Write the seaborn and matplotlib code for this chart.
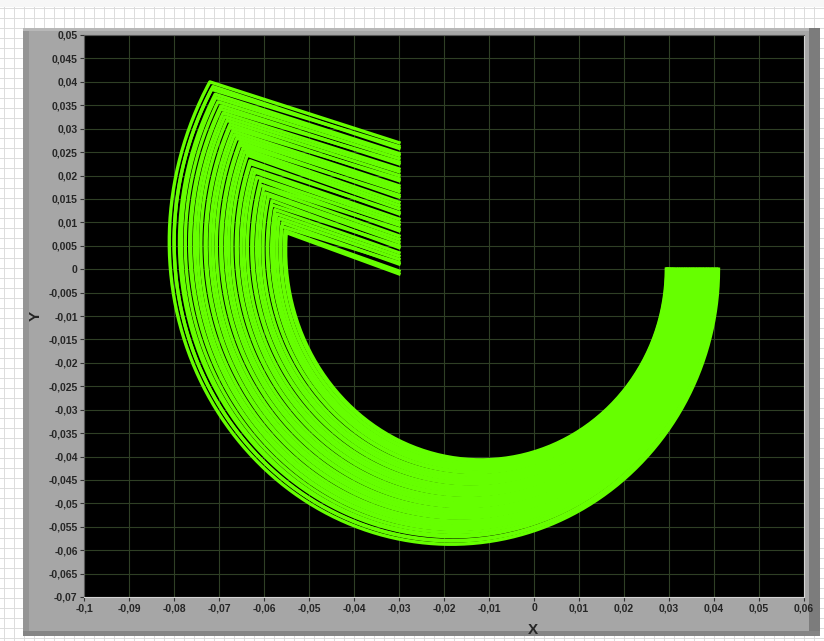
import numpy as np
import pandas as pd
import seaborn as sns
import matplotlib.pyplot as plt
from matplotlib.patches import Rectangle

###############################################################################
# Data
###############################################################################
# x where each path leaves the y=0 line
START_X = [
    0.0410, 0.0406, 0.0404, 0.0399, 0.0397, 0.0393, 0.0390, 0.0386, 0.0384, 0.0380,
    0.0377, 0.0374, 0.0370, 0.0368, 0.0364, 0.0361, 0.0358, 0.0354, 0.0352, 0.0348,
    0.0345, 0.0342, 0.0338, 0.0336, 0.0332, 0.0329, 0.0326, 0.0322, 0.0320, 0.0316,
    0.0313, 0.0310, 0.0307, 0.0305, 0.0302, 0.0300, 0.0298, 0.0297, 0.0295, 0.0294
]
# centre of the turn (on y=0)
CENTER_X = [
    -0.0170, -0.0167, -0.0168, -0.0165, -0.0164, -0.0162, -0.0159, -0.0160, -0.0157, -0.0156,
    -0.0154, -0.0151, -0.0152, -0.0149, -0.0148, -0.0146, -0.0143, -0.0144, -0.0141, -0.0140,
    -0.0138, -0.0135, -0.0136, -0.0133, -0.0132, -0.0130, -0.0127, -0.0128, -0.0125, -0.0124,
    -0.0122, -0.0119, -0.0120, -0.0117, -0.0116, -0.0114, -0.0111, -0.0112, -0.0109, -0.0108
]
# how far past the leftmost point the turn goes (degrees)
TURN_DEG = [
    36.0, 35.5, 35.0, 34.5, 34.0, 33.5, 33.0, 32.5, 32.0, 31.5,
    31.0, 30.5, 30.0, 29.5, 29.0, 28.5, 28.0, 27.5, 27.0, 26.5,
    26.0, 25.0, 24.5, 23.5, 23.0, 22.0, 21.5, 20.5, 20.0, 19.0,
    18.5, 17.5, 16.5, 15.5, 14.5, 13.5, 12.5, 11.5, 10.5, 10.0
]
# y where each straight leg stops at x = END_X
END_X = -0.03
END_Y = [
    0.0270, 0.0258, 0.0262, 0.0247, 0.0243, 0.0236, 0.0225, 0.0229, 0.0214, 0.0208,
    0.0200, 0.0189, 0.0193, 0.0178, 0.0172, 0.0166, 0.0154, 0.0158, 0.0143, 0.0136,
    0.0129, 0.0118, 0.0121, 0.0107, 0.0100, 0.0094, 0.0082, 0.0086, 0.0071, 0.0064,
    0.0057, 0.0046, 0.0050, 0.0035, 0.0028, 0.0021, 0.0011, 0.0014, -0.0004, -0.0010
]
GROWTH = 0.1

X_TICKS = [-0.1, -0.09, -0.08, -0.07, -0.06, -0.05, -0.04, -0.03, -0.02, -0.01,
           0, 0.01, 0.02, 0.03, 0.04, 0.05, 0.06]
X_LBLS = ['-0,1', '-0,09', '-0,08', '-0,07', '-0,06', '-0,05', '-0,04', '-0,03',
          '-0,02', '-0,01', '0', '0,01', '0,02', '0,03', '0,04', '0,05', '0,06']
Y_TICKS = [0.05, 0.045, 0.04, 0.035, 0.03, 0.025, 0.02, 0.015, 0.01, 0.005, 0,
           -0.005, -0.01, -0.015, -0.02, -0.025, -0.03, -0.035, -0.04, -0.045,
           -0.05, -0.055, -0.06, -0.065, -0.07]
Y_LBLS = ['0,05', '0,045', '0,04', '0,035', '0,03', '0,025', '0,02', '0,015',
          '0,01', '0,005', '0', '-0,005', '-0,01', '-0,015', '-0,02', '-0,025',
          '-0,03', '-0,035', '-0,04', '-0,045', '-0,05', '-0,055', '-0,06',
          '-0,065', '-0,07']

###############################################################################
# Build paths: turn around CENTER_X, then a straight leg to END_X
###############################################################################
rows = []
for k in range(len(START_X)):
    (cx, r0) = (CENTER_X[k], START_X[k] - CENTER_X[k])
    phi = np.linspace(0, np.pi + np.radians(TURN_DEG[k]), 240)
    r = r0 * (1 + GROWTH * (phi / np.pi) ** 3)
    xs = list(cx + r * np.cos(phi)) + [END_X]
    ys = list(-r * np.sin(phi)) + [END_Y[k]]
    rows += [(k, i, a, b) for (i, (a, b)) in enumerate(zip(xs, ys))]
df = pd.DataFrame(rows, columns=['path', 'step', 'x', 'y'])

###############################################################################
# Figure
###############################################################################
GREEN = '#66ff00'
TXT = '#262626'
FONT = 'Liberation Sans'
fig = plt.figure(figsize=(8.24, 6.41), dpi=100)
# page background (light grid) and the grey graph panel
bg = fig.add_axes([0, 0, 1, 1], zorder=-10)
bg.set_xlim(0, 824)
bg.set_ylim(641, 0)
bg.set_facecolor('#eeeeee')
for v in np.arange(4, 824, 10):
    bg.axvline(v, color='#dcdcdc', lw=0.7, zorder=0)
for v in np.arange(8, 641, 10):
    bg.axhline(v, color='#dcdcdc', lw=0.7, zorder=0)
bg.add_patch(Rectangle((0, 0), 824, 7, facecolor='#f7f7f7', edgecolor='none', zorder=1))
bg.add_patch(Rectangle((23, 28), 797, 608, facecolor='#a6a6a6', edgecolor='none', zorder=2))
bg.add_patch(Rectangle((23, 28), 6, 608, facecolor='#959595', edgecolor='none', zorder=3))
bg.add_patch(Rectangle((23, 28), 797, 3, facecolor='#b8b8b8', edgecolor='none', zorder=3))
bg.add_patch(Rectangle((809, 28), 11, 608, facecolor='#7c7c7c', edgecolor='none', zorder=3))
bg.add_patch(Rectangle((23, 631), 797, 5, facecolor='#858585', edgecolor='none', zorder=3))
bg.axis('off')

ax = fig.add_axes([84 / 824, 44 / 641, 720 / 824, 562 / 641])
ax.set_facecolor('black')
sns.lineplot(
    data=df, x='x', y='y', units='path', estimator=None, sort=False,
    color=GREEN, lw=2.4, ax=ax, legend=False
)
ax.set_xlim(-0.1, 0.06)
ax.set_ylim(-0.07, 0.05)
ax.set_xticks(X_TICKS)
ax.set_xticklabels(X_LBLS)
ax.set_yticks(Y_TICKS)
ax.set_yticklabels(Y_LBLS)
ax.grid(True, color='#2f3f25', lw=0.8)
ax.set_axisbelow(True)
ax.tick_params(axis='both', length=3, width=0.8, color='#333333', pad=1.5,
               labelsize=7.5, labelcolor=TXT)
for lbl in ax.get_xticklabels() + ax.get_yticklabels():
    lbl.set_fontweight('bold')
    lbl.set_family(FONT)
ax.spines['top'].set_color('#5a5a5a')
ax.spines['left'].set_color('#5a5a5a')
ax.spines['bottom'].set_color('#d4d4d4')
ax.spines['right'].set_color('#d4d4d4')
ax.set_xlabel('X', fontsize=11, fontweight='bold', color=TXT, family=FONT)
ax.set_ylabel('Y', fontsize=11, fontweight='bold', color=TXT, family=FONT)
ax.xaxis.set_label_coords(0.6236, -0.046)
ax.yaxis.set_label_coords(-0.058, 0.5)

fig.savefig('out.png', dpi=100)
